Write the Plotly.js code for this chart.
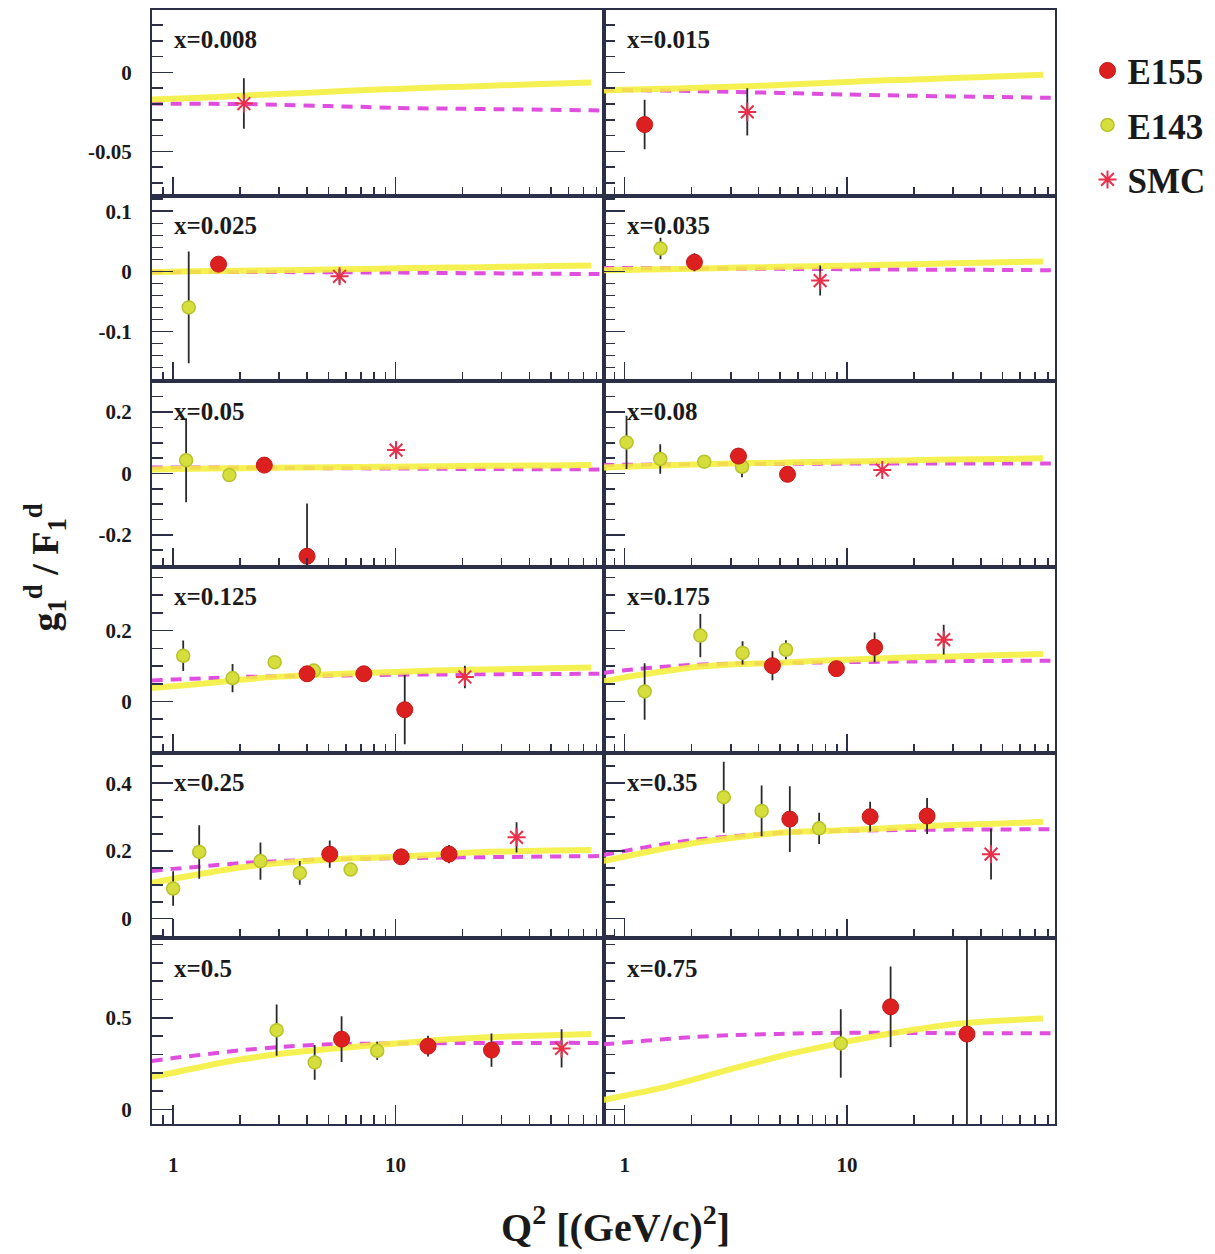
<!DOCTYPE html>
<html>
<head>
<meta charset="utf-8">
<script src="https://cdn.plot.ly/plotly-3.0.1.min.js"></script>
<style>html,body{margin:0;padding:0;background:#fff;}#chart{width:1215px;height:1254px;}</style>
</head>
<body>
<div id="chart"></div>
<script>
// ---- panel labels (x bins) ----
const panelLabels = ['x=0.008','x=0.015','x=0.025','x=0.035','x=0.05','x=0.08','x=0.125','x=0.175','x=0.25','x=0.35','x=0.5','x=0.75'];

// ---- model curves, sampled at Q^2 nodes ----
const qModel = [0.8, 1, 1.5, 2, 3, 5, 7, 10, 15, 20, 30, 50, 76, 87];
const solidModel = [
  [-0.0172,-0.0166,-0.0157,-0.0147,-0.0137,-0.0122,-0.0113,-0.0105,-0.0095,-0.009,-0.0082,-0.0072,-0.0064,null],
  [-0.0115,-0.011,-0.0104,-0.0098,-0.009,-0.008,-0.007,-0.006,-0.005,-0.0045,-0.0035,-0.0025,-0.0015,null],
  [-0.001,-0.0005,0.0005,0.001,0.002,0.003,0.004,0.005,0.006,0.0065,0.0075,0.0088,0.0098,null],
  [0.002,0.0025,0.0035,0.0045,0.006,0.0075,0.0085,0.0095,0.011,0.012,0.0135,0.015,0.0164,null],
  [0.013,0.014,0.016,0.017,0.018,0.02,0.021,0.022,0.023,0.024,0.025,0.026,0.027,null],
  [0.0196,0.022,0.026,0.029,0.032,0.035,0.037,0.039,0.041,0.043,0.045,0.047,0.049,null],
  [0.038,0.043,0.053,0.061,0.07,0.077,0.08,0.083,0.087,0.089,0.091,0.094,0.096,null],
  [0.0566,0.068,0.085,0.096,0.104,0.109,0.114,0.118,0.122,0.125,0.127,0.131,0.134,null],
  [0.1056,0.118,0.138,0.151,0.164,0.175,0.179,0.1825,0.189,0.194,0.198,0.201,0.2024,null],
  [0.17,0.183,0.207,0.222,0.238,0.2536,0.258,0.2616,0.267,0.271,0.2764,0.281,0.286,null],
  [0.178,0.2,0.245,0.272,0.302,0.329,0.345,0.36,0.377,0.387,0.397,0.405,0.411,null],
  [0.051,0.075,0.12,0.16,0.22,0.29,0.33,0.37,0.41,0.435,0.465,0.485,0.496,null]
];
const dashedModel = [
  [-0.0197,-0.0198,-0.0199,-0.02,-0.0205,-0.0213,-0.0218,-0.0225,-0.0228,-0.023,-0.0233,-0.0237,-0.024,-0.0241],
  [-0.011,-0.0112,-0.0115,-0.0118,-0.0123,-0.013,-0.0135,-0.014,-0.0145,-0.0148,-0.0152,-0.0156,-0.016,-0.016],
  [-0.001,-0.001,-0.001,-0.0011,-0.0012,-0.0015,-0.0017,-0.002,-0.0025,-0.003,-0.0034,-0.004,-0.0044,-0.0045],
  [0.0055,0.0055,0.0052,0.005,0.0046,0.0042,0.004,0.0037,0.0033,0.003,0.0027,0.0024,0.002,0.002],
  [0.0196,0.0195,0.019,0.0185,0.018,0.017,0.0165,0.016,0.015,0.0145,0.014,0.0135,0.013,0.013],
  [0.027,0.028,0.029,0.03,0.0305,0.031,0.0315,0.032,0.0322,0.0323,0.0325,0.0326,0.0326,0.0326],
  [0.059,0.062,0.066,0.069,0.071,0.073,0.074,0.0755,0.076,0.0765,0.077,0.0775,0.078,0.078],
  [0.08,0.088,0.098,0.103,0.107,0.109,0.11,0.111,0.112,0.113,0.114,0.1145,0.115,0.115],
  [0.141,0.147,0.157,0.164,0.17,0.1757,0.177,0.1787,0.18,0.181,0.182,0.1835,0.1846,0.185],
  [0.1876,0.2,0.22,0.232,0.243,0.2536,0.257,0.2596,0.261,0.262,0.263,0.2635,0.2637,0.2637],
  [0.2635,0.28,0.305,0.322,0.34,0.355,0.358,0.36,0.361,0.362,0.362,0.363,0.363,0.363],
  [0.355,0.365,0.383,0.394,0.405,0.412,0.416,0.418,0.418,0.417,0.416,0.415,0.415,0.415]
];

// ---- E155 data ----
const e155Q = [[],[1.23],[1.60],[2.06],[2.57,4.0],[3.25,5.4],[4.0,7.2,11.0],[4.62,8.96,13.3],[5.06,10.6,17.4],[5.53,12.7,22.9],[5.72,14.0,27.0],[15.7,34.6]];
const e155V = [[],[-0.033],[0.012],[0.0153],[0.027,-0.27],[0.0565,-0.003],[0.078,0.078,-0.0235],[0.101,0.0925,0.153],[0.1905,0.1825,0.1905],[0.294,0.301,0.303],[0.3835,0.345,0.3235],[0.56,0.411]];
const e155Err = [[],[0.0157],[0.012],[0.015],[0.01,0.172],[0.01,0.01],[0.012,0.012,0.098],[0.041,0.015,0.042],[0.04,0.015,0.027],[0.097,0.044,0.053],[0.125,0.057,0.091],[0.22,0.6]];

// ---- E143 data ----
const e143Q = [[],[],[1.175],[1.45],[1.144,1.79],[1.02,1.446,2.28,3.37],[1.11,1.85,2.86,4.29],[1.23,2.19,3.39,5.31],[1.0,1.31,2.47,3.71,6.28],[2.79,4.13,7.49],[2.92,4.33,8.27],[9.37]];
const e143V = [[],[],[-0.06],[0.038],[0.043,-0.0055],[0.101,0.047,0.038,0.0215],[0.129,0.066,0.111,0.087],[0.028,0.186,0.137,0.146],[0.089,0.197,0.17,0.135,0.145],[0.3585,0.318,0.2667],[0.4326,0.256,0.32],[0.36]];
const e143Err = [[],[],[0.093],[0.018],[0.137,0.012],[0.087,0.048,0.01,0.034],[0.043,0.04,0.012,0.012],[0.08,0.061,0.033,0.027],[0.051,0.079,0.055,0.035,0.012],[0.105,0.075,0.046],[0.14,0.095,0.05],[0.187]];

// ---- SMC data ----
const smcQ = [[2.08],[3.56],[5.6],[7.57],[10.05],[14.4],[20.5],[27.2],[35.0],[44.4],[55.8],[]];
const smcV = [[-0.0197],[-0.025],[-0.0082],[-0.0153],[0.076],[0.011],[0.069],[0.1745],[0.24],[0.1905],[0.333],[]];
const smcErr = [[0.016],[0.015],[0.012],[0.025],[0.01],[0.01],[0.032],[0.042],[0.045],[0.075],[0.105],[]];

// ---- axis tick labels ----
const xTickVals = [1, 10];
const xTickText = ['1', '10'];
const xMinorVals = [0.9, 2, 3, 4, 5, 6, 7, 8, 9, 20, 30, 40, 50, 60, 70, 80];
const rowYTickVals = [[-0.05, 0], [-0.1, 0, 0.1], [-0.2, 0, 0.2], [0, 0.2], [0, 0.2, 0.4], [0, 0.5]];
const rowYTickText = [['-0.05', '0'], ['-0.1', '0', '0.1'], ['-0.2', '0', '0.2'], ['0', '0.2'], ['0', '0.2', '0.4'], ['0', '0.5']];

// ---- styling / layout config ----
const rowRanges = [[-0.078, 0.0395], [-0.183, 0.126], [-0.305, 0.3], [-0.145, 0.38], [-0.058, 0.49], [-0.08, 0.934]];
const rowMinorStep = [0.01, 0.02, 0.05, 0.05, 0.05, 0.1];
const SERIF = '"Liberation Serif", "DejaVu Serif", "Times New Roman", serif';
const FRAME = '#2b3048';
const TXT = '#1a1a1a';

const traces = [];
const layout = {
  width: 1215, height: 1254,
  margin: {l: 152, r: 160, t: 10, b: 130, autoexpand: false},
  paper_bgcolor: '#ffffff', plot_bgcolor: '#ffffff',
  showlegend: true,
  legend: {
    x: 1.036, y: 0.972, xanchor: 'left', yanchor: 'top',
    font: {family: SERIF, size: 35, color: TXT, weight: 700},
    bgcolor: 'rgba(0,0,0,0)', itemwidth: 30, tracegroupgap: 6
  },
  annotations: []
};

const seen = {E155: false, E143: false, SMC: false};

for (let i = 0; i < 12; i++) {
  const row = Math.floor(i / 2), col = i % 2, k = i + 1;
  const xa = 'x' + k, ya = 'y' + k;
  const xKey = 'xaxis' + (k === 1 ? '' : k), yKey = 'yaxis' + (k === 1 ? '' : k);

  layout[xKey] = {
    type: 'log', range: [-0.095, 1.935],
    domain: col === 0 ? [0, 0.5] : [0.5, 1], anchor: ya,
    showline: true, linecolor: FRAME, linewidth: 2, mirror: true,
    showgrid: false, zeroline: false,
    ticks: 'inside', ticklen: 19, tickwidth: 1.6, tickcolor: FRAME,
    tickmode: 'array', tickvals: xTickVals, ticktext: xTickText,
    showticklabels: row === 5, ticklabelstandoff: 21,
    tickfont: {family: SERIF, size: 21, color: TXT, weight: 700},
    minor: {tickmode: 'array', tickvals: xMinorVals, ticks: 'inside', ticklen: 9, tickwidth: 1.6, tickcolor: FRAME},
    fixedrange: true
  };
  layout[yKey] = {
    range: rowRanges[row],
    domain: [1 - (row + 1) / 6, 1 - row / 6], anchor: xa,
    showline: true, linecolor: FRAME, linewidth: 2, mirror: true,
    showgrid: false, zeroline: false,
    ticks: 'inside', ticklen: 21, tickwidth: 1.6, tickcolor: FRAME,
    tickmode: 'array', tickvals: rowYTickVals[row], ticktext: rowYTickText[row],
    showticklabels: col === 0, ticklabelstandoff: 14,
    tickfont: {family: SERIF, size: 21, color: TXT, weight: 700},
    minor: {tickmode: 'linear', tick0: 0, dtick: rowMinorStep[row], ticks: 'inside', ticklen: 11, tickwidth: 1.6, tickcolor: FRAME},
    fixedrange: true
  };

  // model curves
  traces.push({
    x: qModel, y: dashedModel[i], xaxis: xa, yaxis: ya, type: 'scatter', mode: 'lines',
    line: {color: '#e04ee0', width: 4, dash: '11px,8px', shape: 'spline', smoothing: 0.8},
    showlegend: false, hoverinfo: 'skip'
  });
  traces.push({
    x: qModel, y: solidModel[i], xaxis: xa, yaxis: ya, type: 'scatter', mode: 'lines',
    line: {color: '#f5ef3a', width: 6, shape: 'spline', smoothing: 0.8}, opacity: 0.88,
    showlegend: false, hoverinfo: 'skip', connectgaps: false
  });

  const errStyle = {type: 'data', visible: true, color: '#2a2a2a', thickness: 1.8, width: 0};

  if (e143Q[i].length) {
    traces.push({
      x: e143Q[i], y: e143V[i], xaxis: xa, yaxis: ya, type: 'scatter', mode: 'markers',
      name: 'E143', legendgroup: 'E143', legendrank: 2, showlegend: !seen.E143,
      marker: {symbol: 'circle', size: 13, color: '#d6de3e', line: {color: '#b8c22a', width: 1.5}},
      error_y: Object.assign({array: e143Err[i]}, errStyle)
    });
    seen.E143 = true;
  }
  if (e155Q[i].length) {
    traces.push({
      x: e155Q[i], y: e155V[i], xaxis: xa, yaxis: ya, type: 'scatter', mode: 'markers',
      name: 'E155', legendgroup: 'E155', legendrank: 1, showlegend: !seen.E155,
      marker: {symbol: 'circle', size: 16, color: '#dc2020', line: {color: '#c41818', width: 1}},
      error_y: Object.assign({array: e155Err[i]}, errStyle)
    });
    seen.E155 = true;
  }
  if (smcQ[i].length) {
    traces.push({
      x: smcQ[i], y: smcV[i], xaxis: xa, yaxis: ya, type: 'scatter', mode: 'markers',
      name: 'SMC', legendgroup: 'SMC', legendrank: 3, showlegend: !seen.SMC,
      marker: {symbol: 'asterisk-open', size: 15, color: '#e8304a', line: {color: '#e8304a', width: 2}},
      error_y: Object.assign({array: smcErr[i]}, errStyle)
    });
    seen.SMC = true;
  }

  layout.annotations.push({
    text: panelLabels[i], xref: xa + ' domain', yref: ya + ' domain',
    x: col === 0 ? 0.045 : 0.048, y: 1 - 30 / 185.7, xanchor: 'left', yanchor: 'middle',
    showarrow: false, font: {family: SERIF, size: 25, color: TXT, weight: 700}
  });
}

// axis titles
layout.annotations.push({
  text: 'g<sub>1</sub><sup>d</sup> / F<sub>1</sub><sup>d</sup>',
  xref: 'paper', yref: 'paper', x: -0.118, y: 0.5, xanchor: 'center', yanchor: 'middle',
  textangle: -90, showarrow: false, font: {family: SERIF, size: 38, color: TXT, weight: 700}
});
layout.annotations.push({
  text: 'Q<sup>2</sup> [(GeV/c)<sup>2</sup>]',
  xref: 'paper', yref: 'paper', x: 0.513, y: -0.09, xanchor: 'center', yanchor: 'middle',
  showarrow: false, font: {family: SERIF, size: 40, color: TXT, weight: 700}
});

Plotly.newPlot('chart', traces, layout, {displayModeBar: false, staticPlot: true});
</script>
</body>
</html>
